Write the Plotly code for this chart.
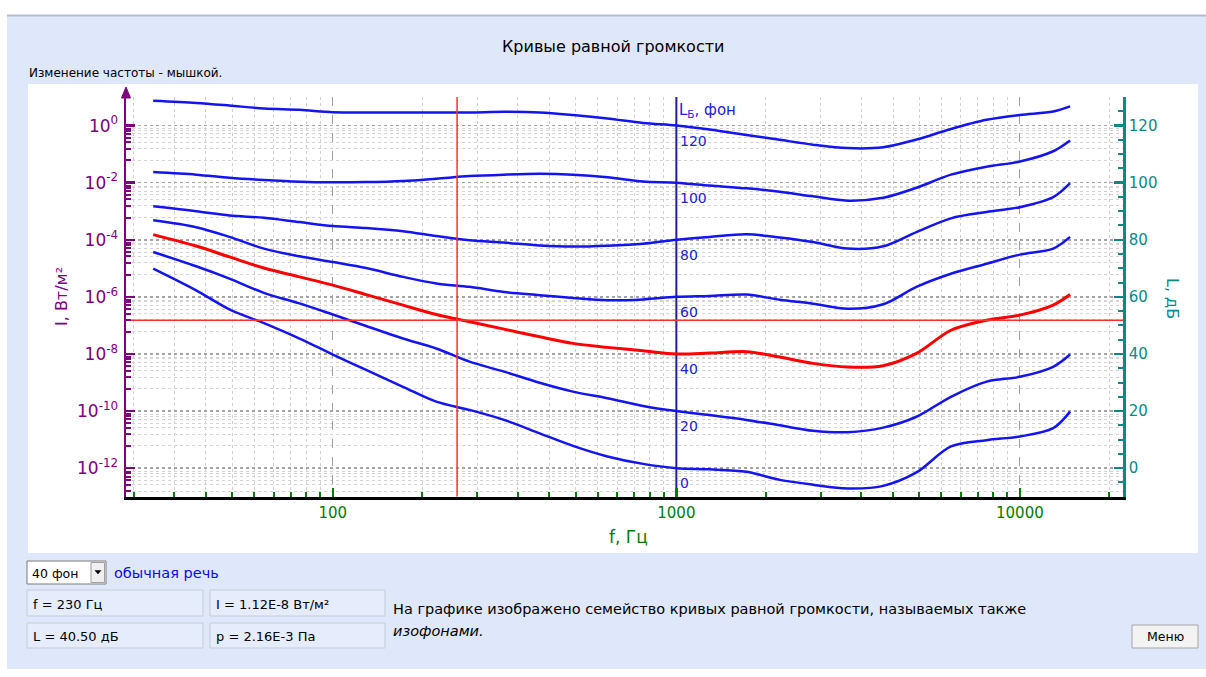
import math
import plotly.graph_objects as go

W, H = 1206, 677


def X(px):
    return px / W


def Y(py):
    return 1 - py / H


# ---------------- data ----------------
freqs = [30, 40, 50, 63, 80, 100, 125, 160, 200, 250, 315, 400, 500, 630, 800,
         1000, 1250, 1600, 2000, 2500, 3150, 4000, 5000, 6300, 8000, 10000, 12500, 14000]

phon_levels = [0, 20, 40, 60, 80, 100, 120]

phon_0 = [69.9, 62.3, 55.6, 50.8, 45.4, 39.8, 34.4, 28.5, 23.3, 20.4, 16.9, 12.2, 7.8, 4.1, 1.5,
          0.0, -0.4, -1.3, -4.1, -5.8, -7.1, -6.2, -1.5, 7.6, 9.8, 11.1, 14.0, 19.8]
phon_20 = [75.7, 70.7, 66.4, 61.4, 57.7, 53.8, 49.8, 45.4, 41.9, 37.3, 33.8, 29.9, 26.8, 24.5, 21.8,
           20.0, 18.6, 16.9, 15.0, 13.1, 12.6, 14.2, 18.0, 25.0, 30.3, 32.0, 35.5, 39.8]
phon_40 = [81.8, 77.8, 74.0, 70.1, 67.0, 64.1, 60.8, 57.1, 53.8, 51.3, 48.7, 46.0, 43.7, 42.3, 41.1,
           40.0, 40.3, 40.8, 38.9, 36.7, 35.4, 35.9, 40.2, 48.3, 51.8, 53.6, 57.1, 60.8]
phon_60 = [86.8, 84.4, 81.0, 76.9, 74.2, 72.2, 70.1, 67.0, 64.7, 63.5, 61.7, 60.6, 59.6, 58.8, 59.1,
           60.0, 60.3, 60.8, 59.0, 57.6, 55.8, 57.4, 63.5, 68.1, 71.6, 74.8, 76.9, 81.0]
phon_80 = [91.7, 90.0, 88.5, 87.7, 86.2, 84.8, 84.1, 83.0, 81.3, 79.8, 79.0, 78.0, 77.6, 77.9, 78.6,
           80.0, 81.0, 81.9, 80.8, 79.2, 76.9, 77.7, 82.7, 87.5, 89.7, 91.4, 94.9, 99.8]
phon_100 = [103.7, 102.8, 101.7, 100.9, 100.3, 100.1, 100.2, 100.6, 101.4, 102.3, 102.8, 103.1, 102.8, 101.9, 100.4,
            100.0, 99.0, 98.0, 96.8, 95.2, 93.7, 94.7, 98.2, 102.8, 105.6, 107.4, 111.0, 114.8]
phon_120 = [128.7, 127.9, 127.0, 126.0, 125.5, 124.7, 124.6, 124.6, 124.6, 124.6, 124.8, 124.6, 123.7, 122.5, 120.9,
            120.0, 118.6, 116.7, 115.0, 113.3, 112.1, 112.4, 115.1, 118.8, 122.0, 123.7, 124.9, 126.7]

curves = {0: phon_0, 20: phon_20, 40: phon_40, 60: phon_60, 80: phon_80, 100: phon_100, 120: phon_120}
selected_phon = 40

cursor_freq = 230       # Hz (red vertical line)
cursor_level = 51.8     # dB (red horizontal line)
ref_freq = 1000         # Hz (reference line)

f_ticks = [100, 1000, 10000]
f_ticktext = ["100", "1000", "10000"]
L_ticks = [0, 20, 40, 60, 80, 100, 120]
I_exps = [0, -2, -4, -6, -8, -10, -12]

f_range = [25, 20000]
L_range = [-10, 130]
I_range_exp = [-13, 1]

# ---------------- colours ----------------
PURPLE = "#800080"
TEAL = "#0a8a84"
GREEN = "#008000"
BLUE = "#1414f0"
LABELBLUE = "#2020d8"
NAVY = "#20208c"
RED = "#ff0000"
BG = "#dfe8fb"
FONT = "DejaVu Sans"

fig = go.Figure()

# invisible trace that makes the intensity axis exist
fig.add_trace(go.Scatter(x=f_range, y=[10 ** I_range_exp[0], 10 ** I_range_exp[1]], yaxis="y2",
                         mode="lines", line=dict(width=0, color="rgba(0,0,0,0)"),
                         hoverinfo="skip", showlegend=False))

# reference line at 1 kHz
fig.add_trace(go.Scatter(x=[ref_freq, ref_freq], y=L_range, mode="lines",
                         line=dict(color=NAVY, width=2), hoverinfo="skip", showlegend=False))

for p in phon_levels:
    if p == selected_phon:
        continue
    fig.add_trace(go.Scatter(x=freqs, y=curves[p], mode="lines",
                             line=dict(color=BLUE, width=2.5, shape="spline", smoothing=0.9),
                             hoverinfo="skip", showlegend=False))
fig.add_trace(go.Scatter(x=freqs, y=curves[selected_phon], mode="lines",
                         line=dict(color=RED, width=3, shape="spline", smoothing=0.9),
                         hoverinfo="skip", showlegend=False))

# cursor cross
fig.add_trace(go.Scatter(x=[cursor_freq, cursor_freq], y=L_range, mode="lines",
                         line=dict(color="#ff3030", width=1.5), hoverinfo="skip", showlegend=False))
fig.add_trace(go.Scatter(x=f_range, y=[cursor_level, cursor_level], mode="lines",
                         line=dict(color="#ff3030", width=1.5), hoverinfo="skip", showlegend=False))

# minor frequency ticks (decade split in 11 equal linear steps, as in the original)
f_minor = []
for base in [10, 100, 1000, 10000]:
    for k in range(1, 11):
        v = base * (1 + 9 * k / 11)
        if f_range[0] < v < f_range[1]:
            f_minor.append(v)

I_minor = []
for e in I_exps:
    for fac in [0.76, 0.67, 0.51, 0.37, 0.26, 0.155, 0.06]:
        I_minor.append(10 ** e * fac)

x_dom = [X(126), X(1123.3)]
y_dom = [Y(496.7), Y(97)]

fig.update_layout(
    width=W, height=H,
    margin=dict(l=0, r=0, t=0, b=0),
    paper_bgcolor="white",
    plot_bgcolor="rgba(0,0,0,0)",
    showlegend=False,
    font=dict(family=FONT),
    xaxis=dict(
        type="log", range=[math.log10(f_range[0]), math.log10(f_range[1])], domain=x_dom,
        tickmode="array", tickvals=f_ticks, ticktext=f_ticktext,
        tickfont=dict(color=GREEN, size=15, family=FONT),
        ticks="inside", ticklen=9, tickwidth=2.5, tickcolor=GREEN,
        showline=True, linecolor="black", linewidth=3,
        showgrid=True, gridcolor="#a0a0a0", gridwidth=1, griddash="dash",
        zeroline=False, ticklabelstandoff=0,
        minor=dict(tickmode="array", tickvals=f_minor, ticks="inside", ticklen=5, tickwidth=2,
                   tickcolor=GREEN, showgrid=True, gridcolor="#cfcfcf", gridwidth=1, griddash="dot"),
        fixedrange=True,
    ),
    yaxis=dict(
        range=L_range, domain=y_dom, side="right", anchor="x",
        tickmode="array", tickvals=L_ticks,
        tickfont=dict(color=TEAL, size=15, family=FONT),
        ticks="inside", ticklen=9, tickwidth=2.5, tickcolor=TEAL,
        showline=True, linecolor=TEAL, linewidth=2.5,
        showgrid=False, zeroline=False, ticklabelstandoff=0,
        minor=dict(dtick=5, tick0=0, ticks="inside", ticklen=5, tickwidth=2, tickcolor=TEAL, showgrid=False),
        fixedrange=True,
    ),
    yaxis2=dict(
        type="log", range=I_range_exp, domain=y_dom, overlaying="y", side="left", anchor="x",
        tickmode="array", tickvals=[10 ** e for e in I_exps],
        ticktext=["10<sup>%d</sup>" % e for e in I_exps],
        tickfont=dict(color=PURPLE, size=17, family=FONT),
        ticks="inside", ticklen=9, tickwidth=2.5, tickcolor=PURPLE,
        showline=True, linecolor=PURPLE, linewidth=2.5,
        showgrid=True, gridcolor="#a4a4a4", gridwidth=1.5, griddash="dot",
        zeroline=False, ticklabelstandoff=2,
        minor=dict(tickmode="array", tickvals=I_minor, ticks="inside", ticklen=5, tickwidth=2,
                   tickcolor=PURPLE, showgrid=True, gridcolor="#d4d4d4", gridwidth=1, griddash="dot"),
        fixedrange=True,
    ),
)

shapes = []
# page background
shapes.append(dict(type="rect", xref="paper", yref="paper", x0=X(7), x1=X(1206), y0=Y(669), y1=Y(16),
                   fillcolor=BG, line=dict(width=0), layer="below"))
shapes.append(dict(type="line", xref="paper", yref="paper", x0=X(7), x1=X(1206), y0=Y(15.5), y1=Y(15.5),
                   line=dict(color="#b3bccb", width=2), layer="below"))
# white chart panel
shapes.append(dict(type="rect", xref="paper", yref="paper", x0=X(28), x1=X(1198), y0=Y(553), y1=Y(84),
                   fillcolor="white", line=dict(width=0), layer="below"))
# left axis arrow
shapes.append(dict(type="line", xref="paper", yref="paper", x0=X(126), x1=X(126), y0=Y(97), y1=Y(92),
                   line=dict(color=PURPLE, width=2.5), layer="above"))
shapes.append(dict(type="path", xref="paper", yref="paper",
                   path="M %f %f L %f %f L %f %f Z" % (X(121.5), Y(98), X(126), Y(87), X(130.5), Y(98)),
                   fillcolor=PURPLE, line=dict(color=PURPLE, width=1), layer="above"))

# dropdown
shapes.append(dict(type="rect", xref="paper", yref="paper", x0=X(27), x1=X(106), y0=Y(584), y1=Y(561),
                   fillcolor="white", line=dict(color="#7a7a7a", width=1), layer="below"))
shapes.append(dict(type="rect", xref="paper", yref="paper", x0=X(91), x1=X(104.5), y0=Y(582.5), y1=Y(562.5),
                   fillcolor="#f0f0f0", line=dict(color="#a0a0a0", width=1), layer="below"))
shapes.append(dict(type="path", xref="paper", yref="paper",
                   path="M %f %f L %f %f L %f %f Z" % (X(95), Y(570.5), X(101), Y(570.5), X(98), Y(574)),
                   fillcolor="black", line=dict(color="black", width=0.5), layer="above"))
# read-out boxes
for (x0, y0, x1, y1) in [(27, 590, 203, 616), (210, 590, 385, 616), (27, 623, 203, 648), (210, 623, 385, 648)]:
    shapes.append(dict(type="rect", xref="paper", yref="paper", x0=X(x0), x1=X(x1), y0=Y(y1), y1=Y(y0),
                       fillcolor="#e5ecfb", line=dict(color="#c4cbd6", width=1), layer="below"))
# menu button
shapes.append(dict(type="rect", xref="paper", yref="paper", x0=X(1132), x1=X(1198), y0=Y(648), y1=Y(625),
                   fillcolor="#f3f3f3", line=dict(color="#a4a4a4", width=1), layer="below"))

fig.update_layout(shapes=shapes)

ann = []


def text(x, y, s, size=13, color="black", xanchor="left", yanchor="middle", angle=0, italic=False):
    ann.append(dict(xref="paper", yref="paper", x=X(x), y=Y(y), text=s, showarrow=False,
                    xanchor=xanchor, yanchor=yanchor, textangle=angle,
                    font=dict(family=FONT, size=size, color=color,
                              style="italic" if italic else "normal")))


text(613, 47, "Кривые равной громкости", size=16, xanchor="center")
text(27, 73, "Изменение частоты - мышкой.", size=12)
text(61, 297, "I, Вт/м²", size=16, color=PURPLE, xanchor="center", angle=-90)
text(1172, 298, "L, дБ", size=16, color=TEAL, xanchor="center", angle=90)
text(628, 537, "f, Гц", size=17, color=GREEN, xanchor="center")

# phon labels along the 1 kHz line
for p in phon_levels:
    ann.append(dict(xref="x", yref="y", x=math.log10(ref_freq), y=p - 5.3, text=str(p), showarrow=False,
                    xanchor="left", yanchor="middle", xshift=2,
                    font=dict(family=FONT, size=14, color=LABELBLUE)))
ann.append(dict(xref="x", yref="y", x=math.log10(ref_freq), y=125.2,
                text="L<sub>Б</sub>, фон", showarrow=False, xanchor="left", yanchor="middle", xshift=1,
                font=dict(family=FONT, size=15, color=LABELBLUE)))

# bottom controls
text(30, 573, "40 фон", size=12.5)
text(112, 573, "обычная речь", size=14.5, color="#0a0aee")
text(31, 604, "f = 230 Гц", size=13)
text(214, 604, "I = 1.12E-8 Вт/м²", size=13)
text(31, 636, "L = 40.50 дБ", size=13)
text(214, 636, "p = 2.16E-3 Па", size=13)
text(391, 609, "На графике изображено семейство кривых равной громкости, называемых также", size=14.5)
text(391, 631, "изофонами.", size=14.5, italic=True)
text(1165, 636.5, "Меню", size=12.5, xanchor="center")

fig.update_layout(annotations=ann)

fig.write_html("out.html", config={"displayModeBar": False, "staticPlot": True})
